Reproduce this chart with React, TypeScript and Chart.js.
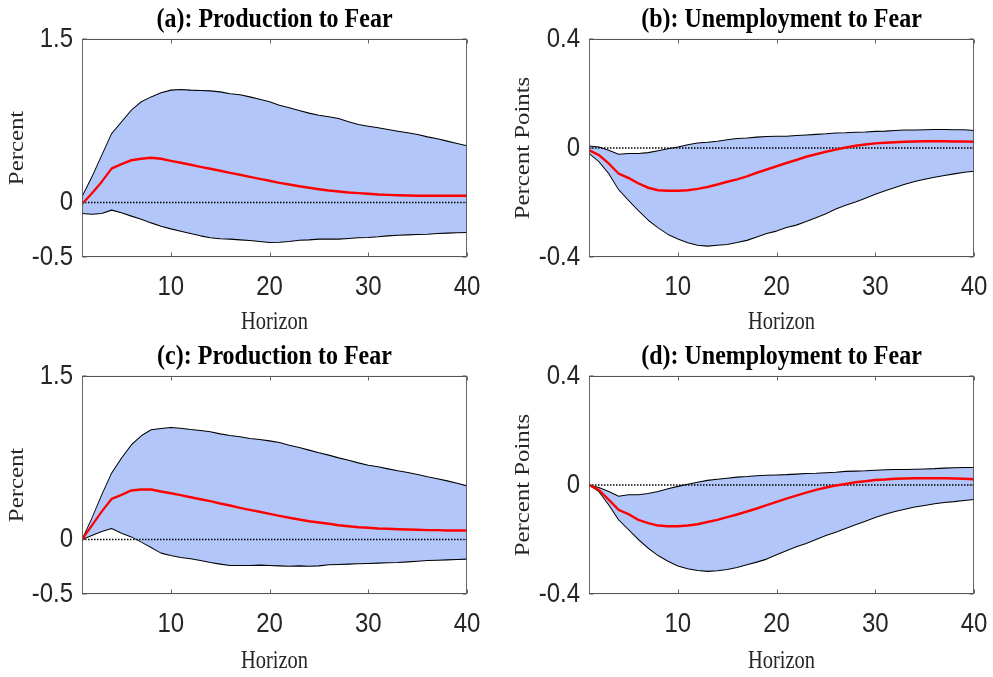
import React, { useEffect, useRef } from 'react';
import { Chart } from 'chart.js/auto';

// horizons 1..40
const horizon = [1, 2, 3, 4, 5, 6, 7, 8, 9, 10, 11, 12, 13, 14, 15, 16, 17, 18, 19, 20,
  21, 22, 23, 24, 25, 26, 27, 28, 29, 30, 31, 32, 33, 34, 35, 36, 37, 38, 39, 40];
const xTicks = [10, 20, 30, 40];
const prodTicks = [-0.5, 0, 1.5];
const unempTicks = [-0.4, 0, 0.4];

// (a) production
const prodUpperA = [0.052, 0.235, 0.434, 0.633, 0.74, 0.847, 0.924, 0.969, 1.006, 1.031, 1.037, 1.031, 1.028, 1.024, 1.015, 0.997, 0.988, 0.969, 0.948, 0.924,
  0.893, 0.869, 0.844, 0.82, 0.801, 0.786, 0.771, 0.74, 0.716, 0.7, 0.685, 0.67, 0.654, 0.639, 0.624, 0.602, 0.584, 0.563, 0.541, 0.52];
const prodMedianA = [-0.015, 0.083, 0.19, 0.312, 0.352, 0.388, 0.401, 0.41, 0.401, 0.382, 0.364, 0.346, 0.327, 0.309, 0.291, 0.272, 0.254, 0.235, 0.217, 0.199,
  0.18, 0.165, 0.15, 0.135, 0.122, 0.11, 0.101, 0.092, 0.086, 0.08, 0.073, 0.07, 0.067, 0.064, 0.061, 0.061, 0.061, 0.061, 0.061, 0.061];
const prodLowerA = [-0.101, -0.107, -0.101, -0.07, -0.095, -0.125, -0.153, -0.187, -0.217, -0.242, -0.263, -0.284, -0.306, -0.324, -0.333, -0.336, -0.343, -0.349, -0.358, -0.367,
  -0.364, -0.358, -0.346, -0.343, -0.336, -0.336, -0.336, -0.33, -0.324, -0.321, -0.315, -0.306, -0.3, -0.297, -0.294, -0.291, -0.284, -0.281, -0.278, -0.275];

// (b) unemployment
const unempUpperB = [0.007, 0.004, -0.008, -0.023, -0.02, -0.02, -0.017, -0.01, -0.003, 0.004, 0.012, 0.018, 0.021, 0.025, 0.03, 0.035, 0.037, 0.04, 0.042, 0.043,
  0.043, 0.046, 0.048, 0.05, 0.052, 0.055, 0.056, 0.058, 0.059, 0.061, 0.062, 0.064, 0.066, 0.066, 0.067, 0.068, 0.068, 0.067, 0.067, 0.064];
const unempMedianB = [-0.008, -0.026, -0.057, -0.094, -0.11, -0.13, -0.146, -0.155, -0.157, -0.157, -0.155, -0.15, -0.143, -0.134, -0.124, -0.115, -0.104, -0.091, -0.079, -0.067,
  -0.055, -0.044, -0.032, -0.023, -0.014, -0.006, 0.002, 0.008, 0.013, 0.017, 0.019, 0.021, 0.023, 0.024, 0.025, 0.025, 0.025, 0.024, 0.024, 0.023];
const unempLowerB = [-0.02, -0.05, -0.094, -0.153, -0.192, -0.23, -0.265, -0.293, -0.317, -0.334, -0.348, -0.357, -0.36, -0.357, -0.354, -0.347, -0.339, -0.327, -0.314, -0.305,
  -0.292, -0.283, -0.27, -0.256, -0.241, -0.224, -0.21, -0.198, -0.184, -0.17, -0.157, -0.145, -0.133, -0.123, -0.115, -0.107, -0.101, -0.095, -0.089, -0.085];

// (c) production
const prodUpperC = [0, 0.196, 0.41, 0.609, 0.746, 0.869, 0.951, 1.006, 1.018, 1.028, 1.021, 1.009, 1.0, 0.988, 0.969, 0.954, 0.942, 0.927, 0.917, 0.905,
  0.89, 0.865, 0.844, 0.82, 0.795, 0.774, 0.749, 0.728, 0.703, 0.682, 0.667, 0.648, 0.63, 0.615, 0.596, 0.575, 0.557, 0.538, 0.517, 0.492];
const prodMedianC = [0, 0.128, 0.257, 0.373, 0.41, 0.45, 0.459, 0.459, 0.44, 0.425, 0.407, 0.388, 0.37, 0.352, 0.33, 0.312, 0.29, 0.272, 0.254, 0.235,
  0.217, 0.199, 0.183, 0.168, 0.156, 0.144, 0.131, 0.122, 0.113, 0.107, 0.101, 0.098, 0.095, 0.092, 0.089, 0.086, 0.086, 0.083, 0.083, 0.083];
const prodLowerC = [0, 0.037, 0.073, 0.101, 0.058, 0.024, -0.024, -0.073, -0.125, -0.147, -0.165, -0.177, -0.193, -0.211, -0.226, -0.239, -0.239, -0.239, -0.235, -0.239,
  -0.242, -0.245, -0.242, -0.245, -0.242, -0.232, -0.229, -0.226, -0.223, -0.22, -0.217, -0.214, -0.211, -0.205, -0.199, -0.193, -0.19, -0.187, -0.183, -0.18];

// (d) unemployment
const unempUpperD = [0, -0.009, -0.024, -0.041, -0.036, -0.036, -0.031, -0.024, -0.014, -0.005, 0.003, 0.01, 0.017, 0.021, 0.025, 0.029, 0.031, 0.034, 0.036, 0.037,
  0.038, 0.04, 0.042, 0.043, 0.045, 0.047, 0.05, 0.051, 0.052, 0.054, 0.056, 0.057, 0.057, 0.058, 0.059, 0.06, 0.062, 0.063, 0.064, 0.064];
const unempMedianD = [0, -0.018, -0.054, -0.091, -0.107, -0.128, -0.14, -0.149, -0.151, -0.151, -0.149, -0.144, -0.136, -0.128, -0.118, -0.108, -0.097, -0.086, -0.074, -0.062,
  -0.05, -0.039, -0.028, -0.018, -0.009, -0.002, 0.004, 0.01, 0.014, 0.018, 0.02, 0.023, 0.024, 0.025, 0.025, 0.025, 0.025, 0.024, 0.023, 0.021];
const unempLowerD = [0, -0.024, -0.073, -0.128, -0.164, -0.2, -0.232, -0.259, -0.28, -0.297, -0.307, -0.314, -0.317, -0.315, -0.31, -0.303, -0.293, -0.283, -0.272, -0.256,
  -0.241, -0.227, -0.215, -0.2, -0.185, -0.173, -0.16, -0.146, -0.133, -0.119, -0.107, -0.097, -0.089, -0.081, -0.075, -0.069, -0.064, -0.061, -0.057, -0.053];

const BAND = 'rgb(178,198,250)';
const AXIS = '#262626';
const TICK_FONT = { family: '"Liberation Sans", Arial, sans-serif', size: 24 };
const LABEL_FONT = { family: '"Liberation Serif", "Times New Roman", serif', size: 21 };
const TITLE_FONT = 'bold 24px "Liberation Serif", "Times New Roman", serif';
// the original figure is a bit stretched vertically; draw in squeezed coords and scale y back up
const K = 1.18;

type PanelProps = {
  title: string; yLabel: string;
  upper: number[]; median: number[]; lower: number[];
  yMin: number; yMax: number; yTicks: number[];
  left: number; top: number; w: number; h: number;
  area: { l: number; r: number; t: number; b: number };
  yTitlePad: number;
};

// vertical stretch, title, zero line, box + inward ticks (MATLAB look)
const decor = {
  id: 'decor',
  beforeDraw(chart: any) {
    const dpr = chart.currentDevicePixelRatio || 1;
    chart.ctx.save();
    chart.ctx.setTransform(dpr, 0, 0, dpr * K, 0, 0);
  },
  beforeDatasetsDraw(chart: any) {
    const { ctx, chartArea: a, scales } = chart;
    const y0 = scales.y.getPixelForValue(0);
    ctx.save();
    ctx.strokeStyle = '#000';
    ctx.lineWidth = 1.3;
    ctx.setLineDash([1.5, 1.5]);
    ctx.beginPath(); ctx.moveTo(a.left, y0); ctx.lineTo(a.right, y0); ctx.stroke();
    ctx.restore();
  },
  afterDraw(chart: any, _args: any, opts: any) {
    const { ctx, chartArea: a, scales } = chart;
    ctx.save();
    ctx.strokeStyle = '#555';
    ctx.lineWidth = 0.9;
    const L = Math.round(a.left) + 0.5, R = Math.round(a.right) - 0.5;
    const T = a.top + 0.4, B = a.bottom - 0.4;
    ctx.strokeRect(L, T, R - L, B - T);
    ctx.beginPath();
    for (const t of scales.x.ticks) {
      const x = Math.round(scales.x.getPixelForValue(t.value)) + 0.5;
      ctx.moveTo(x, B); ctx.lineTo(x, B - 4 / K);
      ctx.moveTo(x, T); ctx.lineTo(x, T + 4 / K);
    }
    for (const t of scales.y.ticks) {
      const y = scales.y.getPixelForValue(t.value);
      ctx.moveTo(L, y); ctx.lineTo(L + 4, y);
      ctx.moveTo(R, y); ctx.lineTo(R - 4, y);
    }
    ctx.stroke();
    ctx.fillStyle = '#000';
    ctx.font = TITLE_FONT;
    ctx.textAlign = 'center';
    ctx.textBaseline = 'middle';
    ctx.fillText(opts.text, (a.left + a.right) / 2, a.top - 19.5 / K);
    ctx.restore();
    ctx.restore(); // pops the stretch set in beforeDraw
  },
};

function Panel(p: PanelProps) {
  const ref = useRef<HTMLCanvasElement>(null);
  useEffect(() => {
    if (!ref.current) return;
    const hc = p.h / K; // squeezed canvas height
    const chart = new Chart(ref.current, {
      type: 'line',
      data: {
        labels: horizon,
        datasets: [
          { data: p.median, borderColor: '#ff0000', borderWidth: 2.1, pointRadius: 0, fill: false },
          { data: p.upper, borderColor: '#000', borderWidth: 0.9, pointRadius: 0, fill: '+1', backgroundColor: BAND },
          { data: p.lower, borderColor: '#000', borderWidth: 0.9, pointRadius: 0, fill: false },
        ],
      },
      options: {
        responsive: false,
        animation: false,
        layout: { padding: { top: p.area.t / K, right: p.w - p.area.r, left: 0, bottom: p.h - hc } },
        plugins: {
          legend: { display: false },
          tooltip: { enabled: false },
          filler: { drawTime: 'beforeDatasetsDraw' },
          decor: { text: p.title },
        } as any,
        elements: { line: { tension: 0, borderJoinStyle: 'round' } },
        scales: {
          x: {
            type: 'linear', min: 1, max: 40,
            grid: { display: false, drawTicks: false }, border: { display: false },
            afterBuildTicks: (s: any) => { s.ticks = xTicks.map(v => ({ value: v })); },
            afterFit: (s: any) => { s.height = hc - p.area.b / K; s.paddingLeft = 0; s.paddingRight = 0; },
            ticks: { font: TICK_FONT, color: AXIS, padding: 11, maxRotation: 0 },
            title: { display: true, text: 'Horizon', font: { ...LABEL_FONT, size: 20.5 }, color: AXIS, padding: { top: 0, bottom: 0.5 } },
          },
          y: {
            type: 'linear', min: p.yMin, max: p.yMax,
            grid: { display: false, drawTicks: false }, border: { display: false },
            afterBuildTicks: (s: any) => { s.ticks = p.yTicks.map(v => ({ value: v })); },
            afterFit: (s: any) => { s.width = p.area.l; },
            ticks: { font: TICK_FONT, color: AXIS, padding: 9, callback: (v: any) => String(v) },
            title: { display: true, text: p.yLabel, font: LABEL_FONT, color: AXIS, padding: { top: p.yTitlePad, bottom: 0 } },
          },
        },
      } as any,
      plugins: [decor],
    });
    return () => chart.destroy();
  }, []);
  return (
    <canvas ref={ref} width={p.w} height={p.h}
      style={{ position: 'absolute', left: p.left, top: p.top, width: p.w, height: p.h }} />
  );
}

export default function App() {
  const areaL = { l: 82, r: 467, t: 39, b: 257 };
  const areaR = { l: 93, r: 478, t: 39, b: 257 };
  const areaL2 = { l: 82, r: 467, t: 38, b: 256 };
  const areaR2 = { l: 93, r: 478, t: 38, b: 256 };
  return (
    <div style={{ position: 'fixed', left: 0, top: 0, width: 993, height: 677, background: '#fff' }}>
      <Panel title="(a): Production to Fear" yLabel="Percent" upper={prodUpperA} median={prodMedianA} lower={prodLowerA}
        yMin={-0.5} yMax={1.5} yTicks={prodTicks} left={0} top={0} w={496} h={338} area={areaL} yTitlePad={4.5} />
      <Panel title="(b): Unemployment to Fear" yLabel="Percent Points" upper={unempUpperB} median={unempMedianB} lower={unempLowerB}
        yMin={-0.4} yMax={0.4} yTicks={unempTicks} left={496} top={0} w={497} h={338} area={areaR} yTitlePad={15} />
      <Panel title="(c): Production to Fear" yLabel="Percent" upper={prodUpperC} median={prodMedianC} lower={prodLowerC}
        yMin={-0.5} yMax={1.5} yTicks={prodTicks} left={0} top={338} w={496} h={339} area={areaL2} yTitlePad={4.5} />
      <Panel title="(d): Unemployment to Fear" yLabel="Percent Points" upper={unempUpperD} median={unempMedianD} lower={unempLowerD}
        yMin={-0.4} yMax={0.4} yTicks={unempTicks} left={496} top={338} w={497} h={339} area={areaR2} yTitlePad={15} />
    </div>
  );
}
